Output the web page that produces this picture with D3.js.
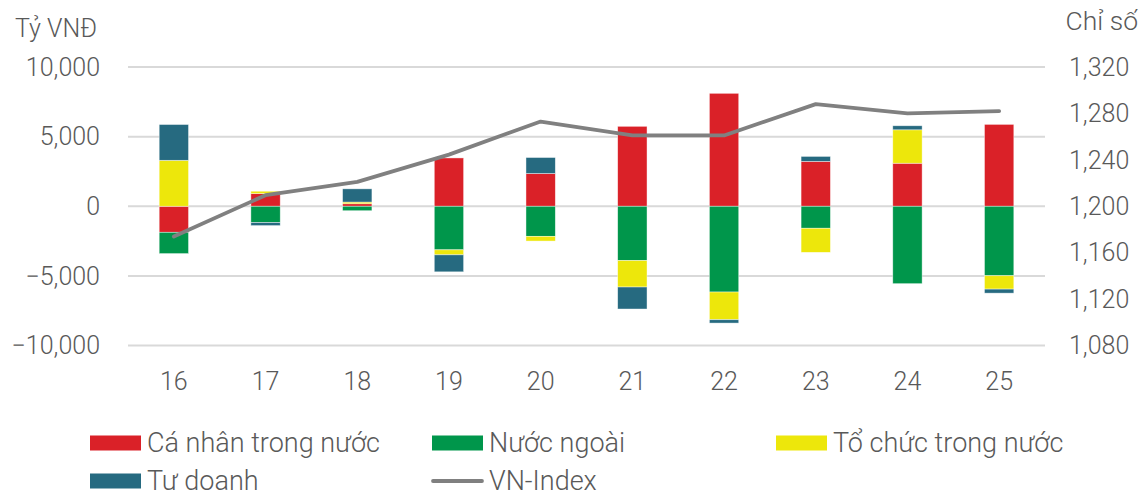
<!DOCTYPE html>
<html>
<head>
<meta charset="utf-8">
<script src="https://cdn.jsdelivr.net/npm/d3@7"></script>
<style>
  html, body { margin: 0; padding: 0; background: #fff; }
  svg { display: block; font-family: Roboto, "Noto Sans", sans-serif; }
</style>
</head>
<body>
<svg id="chart" width="1142" height="496"></svg>
<script>
// ---- data ----
const categories = ["16", "17", "18", "19", "20", "21", "22", "23", "24", "25"];
const caNhan   = [-1870,  910,  180,  3470,  2350,  5740,  8110,  3220,  3090,  5880];
const nuocNgoai= [-1530, -1170, -320, -3130, -2160, -3900, -6160, -1580, -5560, -4990];
const toChuc   = [ 3300,  170,  120,  -360,  -340, -1900, -1990, -1730,  2400,  -960];
const tuDoanh  = [ 2570, -220,  950, -1220,  1150, -1580,  -240,   360,   290,  -290];
const vnIndex  = [1174, 1209.5, 1221, 1244.5, 1273, 1261, 1261, 1288, 1280, 1282];
const leftTicks = [-10000, -5000, 0, 5000, 10000];
const rightTicks = [1080, 1120, 1160, 1200, 1240, 1280, 1320];
const seriesNames = ["Cá nhân trong nước", "Nước ngoài", "Tổ chức trong nước", "Tư doanh"];
const seriesColors = ["#DA2128", "#00964B", "#EDE70B", "#266A80"];
const lineName = "VN-Index";
const lineColor = "#808080";

const svg = d3.select("#chart");
const textColor = "#595959";
const plotL = 128, plotR = 1045, plotT = 67, plotB = 345.5;

const x = d3.scaleBand().domain(categories).range([plotL, plotR]).paddingInner(0.68).paddingOuter(0.34);
const yL = d3.scaleLinear().domain([-10000, 10000]).range([plotB, plotT]);
const yR = d3.scaleLinear().domain([1080, 1320]).range([plotB, plotT]);
const fmt = d3.format(",");

// gridlines
svg.append("g").selectAll("line").data(leftTicks).join("line")
  .attr("x1", plotL).attr("x2", plotR)
  .attr("y1", d => yL(d)).attr("y2", d => yL(d))
  .attr("stroke", "#d9d9d9").attr("stroke-width", 2);

// left axis labels
svg.append("g").selectAll("text").data(leftTicks).join("text")
  .attr("x", 100).attr("y", d => yL(d)).attr("dy", "0.35em")
  .attr("text-anchor", "end").attr("font-size", 25).attr("font-weight", 300)
  .attr("fill", textColor).text(d => fmt(d));

// right axis labels
svg.append("g").selectAll("text").data(rightTicks).join("text")
  .attr("x", 1069).attr("y", d => yR(d)).attr("dy", "0.35em")
  .attr("text-anchor", "start").attr("font-size", 25).attr("font-weight", 300)
  .attr("fill", textColor).text(d => fmt(d));

// x labels
svg.append("g").selectAll("text").data(categories).join("text")
  .attr("x", d => x(d) + x.bandwidth() / 2).attr("y", 381).attr("dy", "0.35em")
  .attr("text-anchor", "middle").attr("font-size", 25).attr("font-weight", 300)
  .attr("fill", textColor).text(d => d);

// axis titles
svg.append("text").attr("x", 15).attr("y", 37).attr("font-size", 25).attr("font-weight", 300)
  .attr("fill", textColor).text("Tỷ VNĐ");
svg.append("text").attr("x", 1138).attr("y", 30).attr("text-anchor", "end").attr("font-size", 26.5).attr("font-weight", 300)
  .attr("fill", textColor).text("Chỉ số");

// stacked bars
const table = categories.map((c, i) => ({
  cat: c, s0: caNhan[i], s1: nuocNgoai[i], s2: toChuc[i], s3: tuDoanh[i]
}));
const stack = d3.stack().keys(["s0", "s1", "s2", "s3"]).offset(d3.stackOffsetDiverging);
const stacked = stack(table);

svg.append("g").selectAll("g").data(stacked).join("g")
  .attr("fill", (d, i) => seriesColors[i])
  .selectAll("rect").data(d => d).join("rect")
  .attr("x", d => x(d.data.cat))
  .attr("width", x.bandwidth())
  .attr("y", d => yL(Math.max(d[0], d[1])))
  .attr("height", d => Math.abs(yL(d[0]) - yL(d[1])))
  .attr("stroke", "#ffffff").attr("stroke-width", 0.7).attr("stroke-opacity", 0.6);

// VN-Index line
const line = d3.line()
  .x((d, i) => x(categories[i]) + x.bandwidth() / 2)
  .y(d => yR(d));
svg.append("path").datum(vnIndex)
  .attr("d", line).attr("fill", "none")
  .attr("stroke", lineColor).attr("stroke-width", 3.8)
  .attr("stroke-linejoin", "round").attr("stroke-linecap", "round");

// legend
const legendItems = [
  { name: seriesNames[0], color: seriesColors[0], type: "rect", x: 90, y: 443 },
  { name: seriesNames[1], color: seriesColors[1], type: "rect", x: 432, y: 443 },
  { name: seriesNames[2], color: seriesColors[2], type: "rect", x: 776, y: 443 },
  { name: seriesNames[3], color: seriesColors[3], type: "rect", x: 90, y: 481 },
  { name: lineName, color: lineColor, type: "line", x: 432, y: 481 }
];
const lg = svg.append("g").selectAll("g").data(legendItems).join("g")
  .attr("transform", d => `translate(${d.x},${d.y})`);
lg.filter(d => d.type === "rect").append("rect")
  .attr("x", 0).attr("y", -7.5).attr("width", 51).attr("height", 15)
  .attr("fill", d => d.color);
lg.filter(d => d.type === "line").append("line")
  .attr("x1", 1).attr("x2", 50).attr("y1", 0).attr("y2", 0)
  .attr("stroke", d => d.color).attr("stroke-width", 3.8).attr("stroke-linecap", "round");
lg.append("text").attr("x", 57).attr("y", 0).attr("dy", "0.35em")
  .attr("font-size", 27).attr("font-weight", 300).attr("fill", textColor)
  .text(d => d.name);
</script>
</body>
</html>
